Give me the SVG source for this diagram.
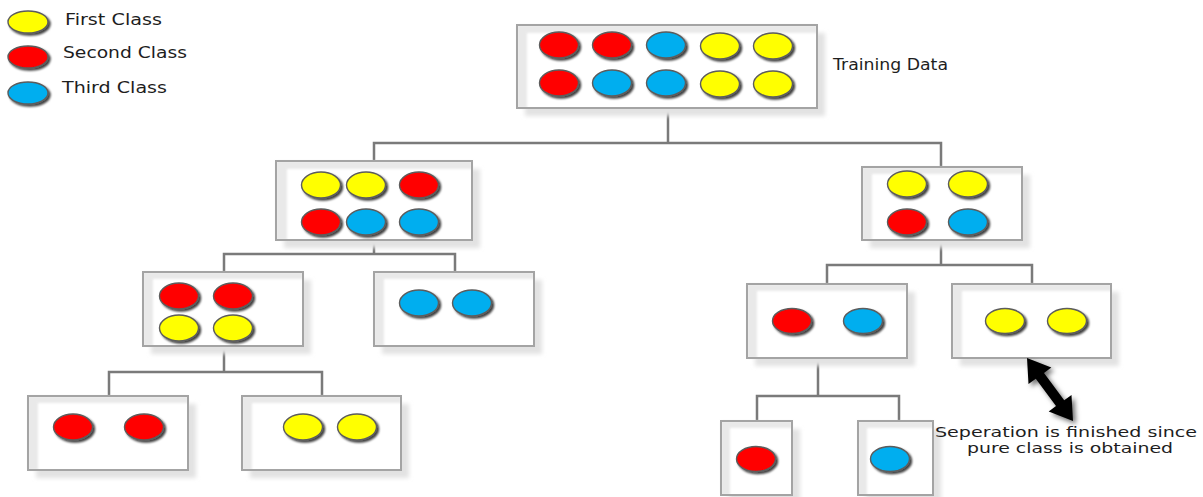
<svg xmlns="http://www.w3.org/2000/svg" width="1203" height="497" viewBox="0 0 1203 497">
  <style>
    .shadow { fill: #e2e2e2; filter: url(#soft); }
    .face { fill: #ffffff; }
    .inset { fill: #e9e9e9; filter: url(#softer); }
    .frame { fill: none; stroke: #a4a4a4; stroke-width: 2; }
    .ball { stroke: #5c5c5c; stroke-width: 1.4; filter: url(#drop); }
    .y { fill: #ffff00; }
    .r { fill: #ff0000; }
    .b { fill: #00aeef; }
    .wire { fill: none; stroke: #7a7a7a; stroke-width: 2.5; }
    .lbl { font-family: "DejaVu Sans", Verdana, sans-serif; font-size: 15px; fill: #1e1e1e; }
    .note { font-size: 14px; }
  </style>
  <defs>
    <filter id="soft" x="-10%" y="-10%" width="120%" height="120%">
      <feGaussianBlur stdDeviation="2"/>
    </filter>
    <filter id="softer" x="-10%" y="-10%" width="120%" height="120%">
      <feGaussianBlur stdDeviation="1.2"/>
    </filter>
    <filter id="drop" x="-30%" y="-30%" width="170%" height="170%">
      <feDropShadow dx="2" dy="2" stdDeviation="1" flood-color="#000" flood-opacity="0.75"/>
    </filter>
    <filter id="arrowShade" x="-30%" y="-30%" width="170%" height="170%">
      <feDropShadow dx="3" dy="3" stdDeviation="2.5" flood-color="#000" flood-opacity="0.55"/>
    </filter>
  </defs>

  <rect width="1203" height="497" fill="#ffffff"/>

  <!-- legend -->
  <g id="legend">
    <ellipse class="ball y" cx="28" cy="22" rx="20" ry="11"/>
    <ellipse class="ball r" cx="28" cy="57" rx="20" ry="11"/>
    <ellipse class="ball b" cx="28" cy="93" rx="20" ry="11"/>
    <text class="lbl" x="65" y="25" textLength="97" lengthAdjust="spacingAndGlyphs">First Class</text>
    <text class="lbl" x="63" y="58" textLength="124" lengthAdjust="spacingAndGlyphs">Second Class</text>
    <text class="lbl" x="62" y="93" textLength="105" lengthAdjust="spacingAndGlyphs">Third Class</text>
  </g>

  <!-- tree connectors -->
  <g id="connectors">
    <path class="wire" d="M668 108 V143 M374 161 V143 H941 V167"/>
    <path class="wire" d="M374 240 V254 M224 272 V254 H455 V272"/>
    <path class="wire" d="M224 346 V372 M109 396 V372 H322 V396"/>
    <path class="wire" d="M941 240 V265 M827 284 V265 H1032 V284"/>
    <path class="wire" d="M818 358 V396 M757 421 V396 H899 V421"/>
  </g>

  <!-- root: training data -->
  <g id="root">
    <rect class="shadow" x="525" y="33" width="300" height="83"/>
    <rect class="face" x="517" y="25" width="300" height="83"/>
    <path class="inset" d="M517 25 H817 V33 H527 V108 H517 Z"/>
    <rect class="frame" x="517" y="25" width="300" height="83"/>
    <ellipse class="ball r" cx="559" cy="45" rx="19.5" ry="13"/>
    <ellipse class="ball r" cx="612" cy="45" rx="19.5" ry="13"/>
    <ellipse class="ball b" cx="666" cy="45" rx="19.5" ry="13"/>
    <ellipse class="ball y" cx="720" cy="46" rx="19.5" ry="13"/>
    <ellipse class="ball y" cx="773" cy="46" rx="19.5" ry="13"/>
    <ellipse class="ball r" cx="559" cy="83" rx="19.5" ry="13"/>
    <ellipse class="ball b" cx="612" cy="83" rx="19.5" ry="13"/>
    <ellipse class="ball b" cx="666" cy="83" rx="19.5" ry="13"/>
    <ellipse class="ball y" cx="720" cy="84" rx="19.5" ry="13"/>
    <ellipse class="ball y" cx="773" cy="84" rx="19.5" ry="13"/>
    <text class="lbl" x="833" y="70" textLength="115" lengthAdjust="spacingAndGlyphs">Training Data</text>
  </g>

  <!-- level 1, left -->
  <g id="n-left">
    <rect class="shadow" x="284" y="169" width="196" height="79"/>
    <rect class="face" x="276" y="161" width="196" height="79"/>
    <path class="inset" d="M276 161 H472 V169 H287 V240 H276 Z"/>
    <rect class="frame" x="276" y="161" width="196" height="79"/>
    <ellipse class="ball y" cx="321" cy="185" rx="19.5" ry="13"/>
    <ellipse class="ball y" cx="366" cy="185" rx="19.5" ry="13"/>
    <ellipse class="ball r" cx="419" cy="185" rx="19.5" ry="13"/>
    <ellipse class="ball r" cx="321" cy="222" rx="19.5" ry="13"/>
    <ellipse class="ball b" cx="366" cy="222" rx="19.5" ry="13"/>
    <ellipse class="ball b" cx="419" cy="222" rx="19.5" ry="13"/>
  </g>

  <!-- level 1, right -->
  <g id="n-right">
    <rect class="shadow" x="870" y="175" width="160" height="73"/>
    <rect class="face" x="862" y="167" width="160" height="73"/>
    <path class="inset" d="M862 167 H1022 V174 H872 V240 H862 Z"/>
    <rect class="frame" x="862" y="167" width="160" height="73"/>
    <ellipse class="ball y" cx="907" cy="184" rx="19.5" ry="13"/>
    <ellipse class="ball y" cx="968" cy="184" rx="19.5" ry="13"/>
    <ellipse class="ball r" cx="907" cy="222" rx="19.5" ry="13"/>
    <ellipse class="ball b" cx="968" cy="222" rx="19.5" ry="13"/>
  </g>

  <!-- level 2, left branch -->
  <g id="n-left-left">
    <rect class="shadow" x="151" y="280" width="160" height="74"/>
    <rect class="face" x="143" y="272" width="160" height="74"/>
    <path class="inset" d="M143 272 H303 V279 H153 V346 H143 Z"/>
    <rect class="frame" x="143" y="272" width="160" height="74"/>
    <ellipse class="ball r" cx="179" cy="296" rx="19.5" ry="13"/>
    <ellipse class="ball r" cx="233" cy="296" rx="19.5" ry="13"/>
    <ellipse class="ball y" cx="179" cy="328" rx="19.5" ry="13"/>
    <ellipse class="ball y" cx="233" cy="328" rx="19.5" ry="13"/>
  </g>

  <g id="n-left-right">
    <rect class="shadow" x="382" y="280" width="160" height="74"/>
    <rect class="face" x="374" y="272" width="160" height="74"/>
    <path class="inset" d="M374 272 H534 V279 H384 V346 H374 Z"/>
    <rect class="frame" x="374" y="272" width="160" height="74"/>
    <ellipse class="ball b" cx="419" cy="303" rx="19.5" ry="13"/>
    <ellipse class="ball b" cx="472" cy="303" rx="19.5" ry="13"/>
  </g>

  <!-- level 3, left branch -->
  <g id="n-red-pair">
    <rect class="shadow" x="36" y="404" width="160" height="74"/>
    <rect class="face" x="28" y="396" width="160" height="74"/>
    <path class="inset" d="M28 396 H188 V403 H38 V470 H28 Z"/>
    <rect class="frame" x="28" y="396" width="160" height="74"/>
    <ellipse class="ball r" cx="73" cy="427" rx="19.5" ry="13"/>
    <ellipse class="ball r" cx="144" cy="427" rx="19.5" ry="13"/>
  </g>

  <g id="n-yellow-pair">
    <rect class="shadow" x="250" y="404" width="159" height="74"/>
    <rect class="face" x="242" y="396" width="159" height="74"/>
    <path class="inset" d="M242 396 H401 V403 H252 V470 H242 Z"/>
    <rect class="frame" x="242" y="396" width="159" height="74"/>
    <ellipse class="ball y" cx="303" cy="427" rx="19.5" ry="13"/>
    <ellipse class="ball y" cx="357" cy="427" rx="19.5" ry="13"/>
  </g>

  <!-- level 2, right branch -->
  <g id="n-right-left">
    <rect class="shadow" x="755" y="292" width="160" height="74"/>
    <rect class="face" x="747" y="284" width="160" height="74"/>
    <path class="inset" d="M747 284 H907 V291 H757 V358 H747 Z"/>
    <rect class="frame" x="747" y="284" width="160" height="74"/>
    <ellipse class="ball r" cx="792" cy="321" rx="19.5" ry="12.5"/>
    <ellipse class="ball b" cx="863" cy="321" rx="19.5" ry="12.5"/>
  </g>

  <g id="n-right-right">
    <rect class="shadow" x="960" y="292" width="159" height="74"/>
    <rect class="face" x="952" y="284" width="159" height="74"/>
    <path class="inset" d="M952 284 H1111 V291 H962 V358 H952 Z"/>
    <rect class="frame" x="952" y="284" width="159" height="74"/>
    <ellipse class="ball y" cx="1005" cy="321" rx="19.5" ry="12.5"/>
    <ellipse class="ball y" cx="1067" cy="321" rx="19.5" ry="12.5"/>
  </g>

  <!-- level 3, right branch -->
  <g id="n-red-single">
    <rect class="shadow" x="729" y="429" width="71" height="74"/>
    <rect class="face" x="721" y="421" width="71" height="74"/>
    <path class="inset" d="M721 421 H792 V428 H730 V495 H721 Z"/>
    <rect class="frame" x="721" y="421" width="71" height="74"/>
    <ellipse class="ball r" cx="756" cy="459" rx="19.5" ry="12.5"/>
  </g>

  <g id="n-blue-single">
    <rect class="shadow" x="866" y="429" width="75" height="74"/>
    <rect class="face" x="858" y="421" width="75" height="74"/>
    <path class="inset" d="M858 421 H933 V428 H867 V495 H858 Z"/>
    <rect class="frame" x="858" y="421" width="75" height="74"/>
    <ellipse class="ball b" cx="890" cy="459" rx="19.5" ry="12.5"/>
  </g>

  <!-- note on the pure leaf -->
  <g id="note">
    <polygon fill="#000000" filter="url(#arrowShade)" points="1027,358 1051.3,367.6 1044,372.9 1064.2,400.3 1071.5,395 1073,421 1048.7,411.4 1056,406.1 1035.8,378.7 1028.5,384"/>
    <text class="lbl note" x="935" y="437" textLength="262" lengthAdjust="spacingAndGlyphs">Seperation is finished since</text>
    <text class="lbl note" x="967" y="453" textLength="206" lengthAdjust="spacingAndGlyphs">pure class is obtained</text>
  </g>
</svg>
